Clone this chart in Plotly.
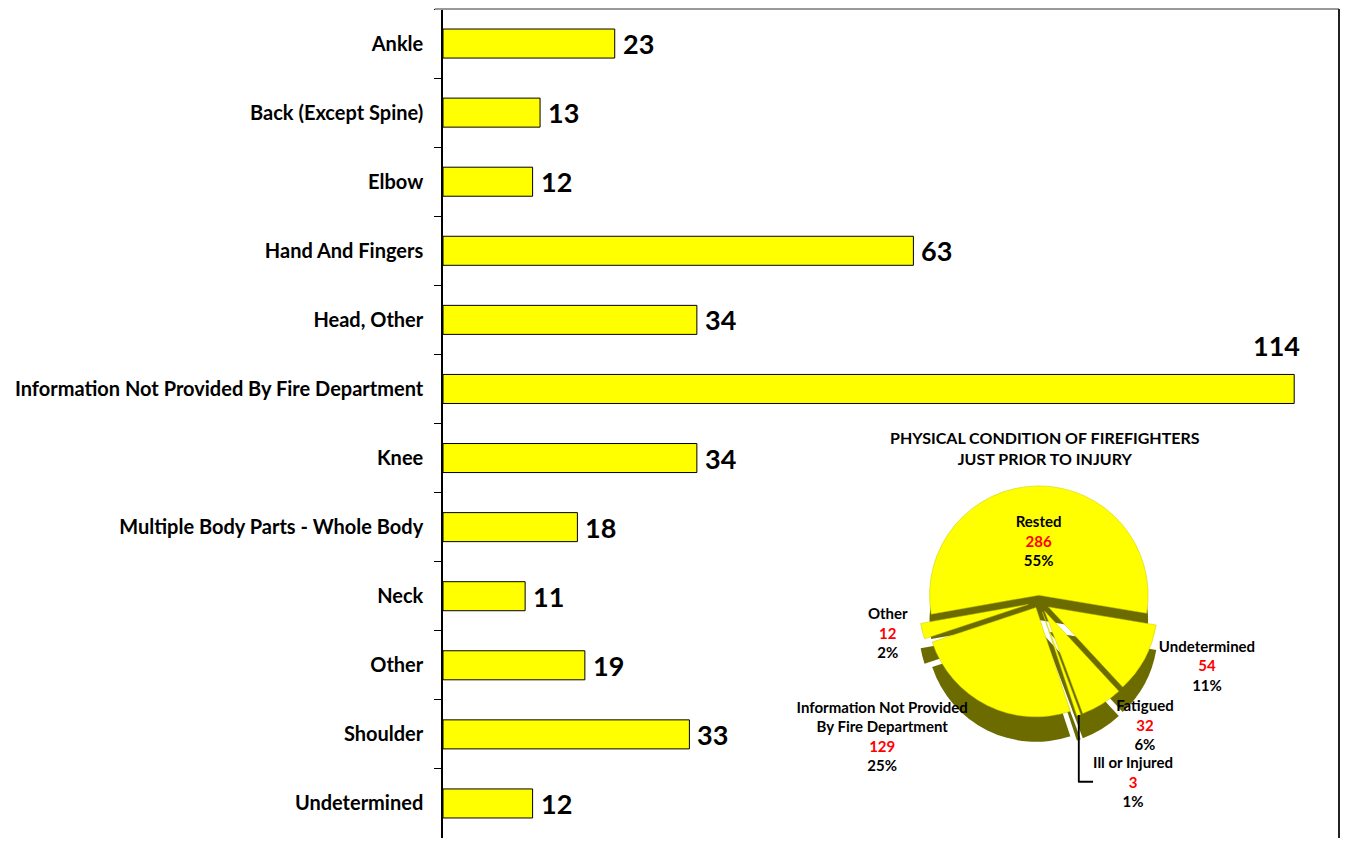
import plotly.graph_objects as go

# ---- Bar chart data (body part injured) ----
categories = [
    "Ankle", "Back (Except Spine)", "Elbow", "Hand And Fingers", "Head, Other",
    "Information Not Provided By Fire Department", "Knee",
    "Multiple Body Parts - Whole Body", "Neck", "Other", "Shoulder", "Undetermined",
]
values = [23, 13, 12, 63, 34, 114, 34, 18, 11, 19, 33, 12]

# ---- Pie data (physical condition) ----
pie_labels = ["Rested", "Undetermined", "Fatigued", "Ill or Injured",
              "Information Not Provided<br>By Fire Department", "Other"]
pie_values = [286, 54, 32, 3, 129, 12]
pie_percent_text = ["55%", "11%", "6%", "1%", "25%", "2%"]
pie_title = "PHYSICAL CONDITION OF FIREFIGHTERS<br>JUST PRIOR TO INJURY"

X_MAX = 120
FONT = "Lato, Roboto, Liberation Sans, sans-serif"

fig = go.Figure()

fig.add_trace(go.Bar(
    x=values, y=categories, orientation="h",
    marker=dict(color="#FFFF00", line=dict(color="#000000", width=1)),
    width=0.42, hoverinfo="x+y", showlegend=False,
))

# value labels
for c, v in zip(categories, values):
    if v / X_MAX < 0.85:
        fig.add_annotation(x=v, y=c, xref="x", yref="y", text=str(v),
                           showarrow=False, xanchor="left", xshift=6,
                           font=dict(family=FONT, size=27, color="#000", weight="bold"))
    else:
        fig.add_annotation(x=v, y=c, xref="x", yref="y", text=str(v),
                           showarrow=False, xanchor="right", xshift=8, yshift=43,
                           font=dict(family=FONT, size=27, color="#000", weight="bold"))

# ---- Pie (fake 3D: dark layer below, yellow on top) ----
n = len(pie_values)
pulls = [0.06, 0.1, 0.1, 0.1, 0.06, 0.1]
dom_x = [0.46, 0.87]
dom_y_top = [0.14, 0.43]
depth = 0.03
fig.add_trace(go.Pie(
    labels=pie_labels, values=pie_values, sort=False, direction="clockwise",
    rotation=-100, pull=pulls, textinfo="none", hoverinfo="skip", automargin=False,
    marker=dict(colors=["#6B6B00"] * n, line=dict(width=0)),
    domain=dict(x=dom_x, y=[dom_y_top[0] - depth, dom_y_top[1] - depth]),
    showlegend=False,
))
fig.add_trace(go.Pie(
    labels=pie_labels, values=pie_values, sort=False, direction="clockwise",
    rotation=-100, pull=pulls, text=pie_percent_text, automargin=False,
    texttemplate="%{label}<br><span style='color:#FF0000'>%{value}</span><br>%{text}",
    textposition=["inside", "outside", "outside", "outside", "outside", "outside"],
    insidetextorientation="horizontal",
    textfont=dict(family=FONT, size=15, color="#000", weight="bold"),
    marker=dict(colors=["#FFFF00"] * n, line=dict(color="#C8C800", width=0.5)),
    domain=dict(x=dom_x, y=dom_y_top),
    showlegend=False,
))

fig.add_annotation(x=0.672, y=0.47, xref="paper", yref="paper", text=pie_title,
                   showarrow=False, xanchor="center", yanchor="middle",
                   font=dict(family=FONT, size=16, color="#000", weight="bold"))

# plot-area frame: grey top edge, black right edge
fig.add_shape(type="line", xref="paper", yref="paper", x0=-0.009, x1=1, y0=1, y1=1,
              line=dict(color="#999999", width=2), layer="above")
fig.add_shape(type="line", xref="paper", yref="paper", x0=1, x1=1, y0=0, y1=1,
              line=dict(color="#222222", width=2), layer="above")

fig.update_layout(
    width=1333, height=830,
    margin=dict(l=435, r=2, t=1, b=0, autoexpand=False),
    paper_bgcolor="white", plot_bgcolor="white",
    xaxis=dict(range=[0, X_MAX], showgrid=False, zeroline=False, showticklabels=False,
               showline=False, ticks="", fixedrange=True, automargin=False),
    yaxis=dict(autorange="reversed", showgrid=False, showline=True, mirror=False,
               linecolor="#000000", linewidth=1.5, ticks="outside", ticklen=7,
               tickcolor="#000", tickson="boundaries", automargin=False,
               tickfont=dict(family=FONT, size=20, color="#000", weight="bold"),
               ticklabelstandoff=14),
    bargap=0.58,
)

fig.write_html("out.html")
